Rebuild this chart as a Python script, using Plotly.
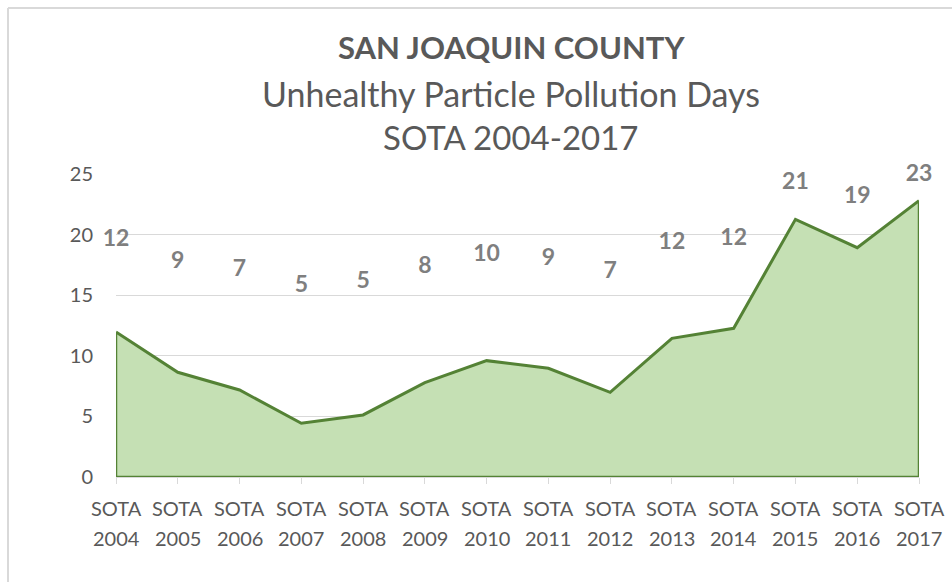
import plotly.graph_objects as go

years = list(range(2004, 2018))
categories = [f"SOTA {y}" for y in years]
values = [11.96, 8.64, 7.18, 4.43, 5.12, 7.78, 9.6, 8.97, 6.99, 11.44, 12.27, 21.26, 18.92, 22.8]
label_text = ["12", "9", "7", "5", "5", "8", "10", "9", "7", "12", "12", "21", "19", "23"]
label_y = [19.55, 17.7, 17.1, 15.75, 16.1, 17.3, 18.3, 17.98, 16.9, 19.3, 19.6, 24.2, 23.1, 24.9]

FONT = "Lato"
W, H = 952, 582
L, R, T, B = 116, 33, 174, 105

fig = go.Figure()
fig.add_trace(go.Scatter(
    x=categories, y=values, mode="lines", fill="tozeroy",
    fillcolor="#C5E0B4", line=dict(color="#548235", width=3),
    hoverinfo="skip", showlegend=False,
))
fig.add_trace(go.Scatter(
    x=[categories[0], categories[0], categories[-1], categories[-1]],
    y=[values[0], 0, 0, values[-1]], mode="lines",
    line=dict(color="#548235", width=2.5), hoverinfo="skip", showlegend=False,
))
fig.add_trace(go.Scatter(
    x=categories, y=label_y, mode="text", text=label_text,
    textfont=dict(family=FONT, size=23, color="#7F7F7F", weight="bold"),
    textposition="middle center", cliponaxis=False, hoverinfo="skip", showlegend=False,
))

pw, ph = W - L - R, H - T - B
def px(x):
    return (x - L) / pw
def py(y):
    return (H - B - y) / ph

titles = [
    ("<b>SAN JOAQUIN COUNTY</b>", 47, 31),
    ("Unhealthy Particle Pollution Days", 93, 34),
    ("SOTA 2004-2017", 137, 33),
]
annotations = []
for txt, yy, sz in titles:
    annotations.append(dict(
        text=txt, x=px(511), y=py(yy), xref="paper", yref="paper",
        xanchor="center", yanchor="middle", showarrow=False,
        font=dict(family=FONT, size=sz, color="#595959"),
    ))
for cat, yr in zip(categories, years):
    for txt, yy in (("SOTA", 508), (str(yr), 538)):
        annotations.append(dict(
            text=txt, x=cat, y=py(yy), xref="x", yref="paper",
            xanchor="center", yanchor="middle", showarrow=False,
            font=dict(family=FONT, size=20, color="#595959"),
        ))

shapes = [
    dict(type="line", xref="paper", yref="paper", x0=px(8), x1=px(952), y0=py(8), y1=py(8),
         line=dict(color="#D9D9D9", width=2)),
    dict(type="line", xref="paper", yref="paper", x0=px(8), x1=px(8), y0=py(8), y1=py(582),
         line=dict(color="#D9D9D9", width=2)),
]

fig.update_layout(
    width=W, height=H,
    margin=dict(l=L, r=R, t=T, b=B),
    paper_bgcolor="white", plot_bgcolor="white",
    annotations=annotations, shapes=shapes,
    xaxis=dict(
        type="category", range=[0, len(categories) - 1],
        tickvals=categories, showticklabels=False,
        showgrid=False, showline=True, linecolor="#D9D9D9", linewidth=1,
        ticks="outside", ticklen=6, tickcolor="#D9D9D9",
        fixedrange=True,
    ),
    yaxis=dict(
        range=[0, 25], tickvals=[0, 5, 10, 15, 20, 25],
        showgrid=True, gridcolor="#D9D9D9", gridwidth=1,
        zeroline=False, showline=False, ticks="",
        tickfont=dict(family=FONT, size=20, color="#595959"),
        ticklabelstandoff=22,
    ),
    font=dict(family=FONT, color="#595959"),
)

fig.write_html(
    "out.html",
    config={"displayModeBar": False},
    post_script="document.body.style.margin='0';document.body.style.overflow='hidden';",
)
